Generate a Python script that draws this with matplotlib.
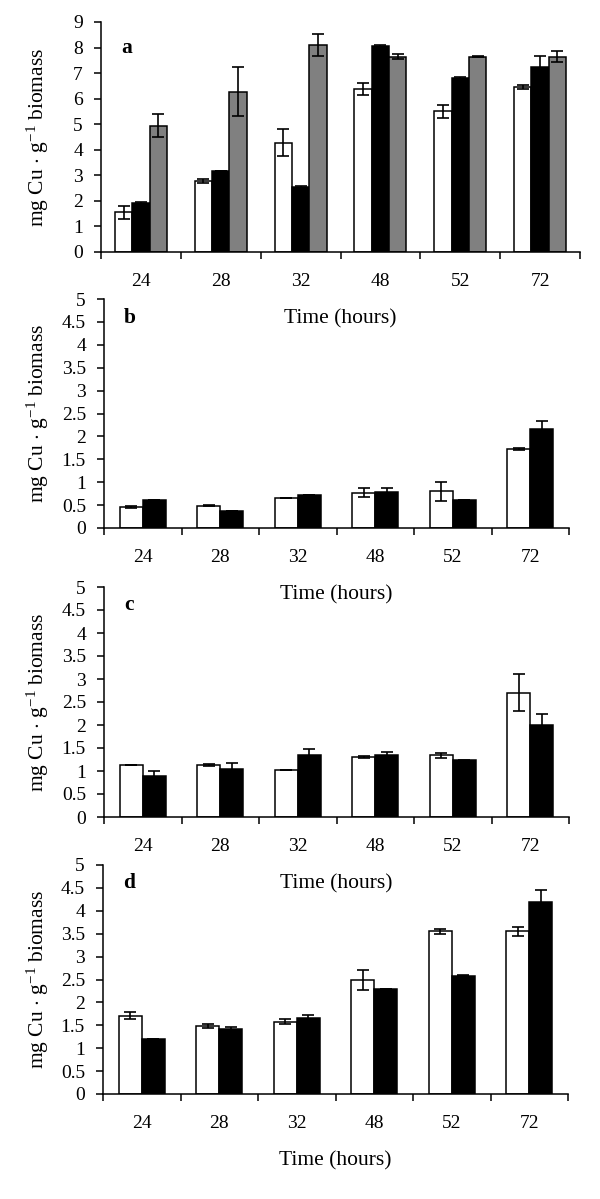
import numpy as np
import matplotlib
matplotlib.use("Agg")
import matplotlib.pyplot as plt
from matplotlib.ticker import FixedLocator, FuncFormatter

plt.rcParams['font.family'] = ['Liberation Serif', 'DejaVu Serif']
plt.rcParams['mathtext.fontset'] = 'custom'
plt.rcParams['mathtext.rm'] = 'Liberation Serif'
plt.rcParams['mathtext.it'] = 'Liberation Serif:italic'
plt.rcParams['mathtext.bf'] = 'Liberation Serif:bold'

# Sampling times (hours)
hours = ['24', '28', '32', '48', '52', '72']

# Panel a: three treatments
a_white = [1.55, 2.78, 4.28, 6.38, 5.50, 6.45]
a_white_err = [0.25, 0.07, 0.52, 0.23, 0.27, 0.07]
a_black = [1.92, 3.18, 2.55, 8.05, 6.80, 7.22]
a_black_err = [0.03, 0.00, 0.03, 0.04, 0.03, 0.45]
a_gray = [4.95, 6.28, 8.10, 7.65, 7.65, 7.65]
a_gray_err = [0.45, 0.95, 0.42, 0.08, 0.02, 0.23]

# Panel b
b_white = [0.46, 0.49, 0.65, 0.77, 0.80, 1.72]
b_white_err = [0.02, 0.02, 0.00, 0.10, 0.20, 0.02]
b_black = [0.62, 0.38, 0.72, 0.78, 0.62, 2.16]
b_black_err = [0.00, 0.00, 0.00, 0.10, 0.00, 0.18]

# Panel c
c_white = [1.14, 1.13, 1.02, 1.31, 1.34, 2.70]
c_white_err = [0.00, 0.02, 0.00, 0.02, 0.05, 0.40]
c_black = [0.90, 1.05, 1.35, 1.35, 1.23, 2.00]
c_black_err = [0.09, 0.12, 0.12, 0.06, 0.02, 0.25]

# Panel d
d_white = [1.71, 1.49, 1.58, 2.48, 3.55, 3.55]
d_white_err = [0.07, 0.04, 0.06, 0.22, 0.06, 0.10]
d_black = [1.20, 1.42, 1.66, 2.30, 2.58, 4.20]
d_black_err = [0.00, 0.05, 0.06, 0.00, 0.01, 0.25]

panels = [
    ('a', [(a_white, a_white_err, 'white'), (a_black, a_black_err, 'black'),
           (a_gray, a_gray_err, '#808080')], 9, 1),
    ('b', [(b_white, b_white_err, 'white'), (b_black, b_black_err, 'black')], 5, 0.5),
    ('c', [(c_white, c_white_err, 'white'), (c_black, c_black_err, 'black')], 5, 0.5),
    ('d', [(d_white, d_white_err, 'white'), (d_black, d_black_err, 'black')], 5, 0.5),
]

# axes boxes in pixels: left, right, top, bottom
W, H = 600, 1199
boxes = [(101, 580, 22, 252), (104, 569, 299, 528),
         (104, 569, 587, 817), (103, 568, 865, 1094)]
letter_dy = [26, 19, 18, 18]

fig = plt.figure(figsize=(W / 100, H / 100), dpi=100)

x = np.arange(len(hours)) + 0.5
for (letter, series, ymax, ystep), (l, r, t, b), ldy in zip(panels, boxes, letter_dy):
    ax = fig.add_axes([l / W, 1 - b / H, (r - l) / W, (b - t) / H])
    ax.patch.set_alpha(0)
    n = len(series)
    w = 0.217 if n == 3 else 0.297
    for k, (vals, errs, col) in enumerate(series):
        pos = x + (k - (n - 1) / 2) * w
        ax.bar(pos, vals, width=w, color=col, edgecolor='black', linewidth=1.1, zorder=2)
        ax.errorbar(pos, vals, yerr=errs, fmt='none', ecolor='black',
                    elinewidth=1.2, capsize=4, capthick=1.2, zorder=3)

    ax.set_xlim(0, len(hours))
    ax.set_ylim(0, ymax)
    ax.set_xticks(x)
    ax.set_xticklabels(hours)
    ax.xaxis.set_minor_locator(FixedLocator(np.arange(len(hours) + 1)))
    ax.tick_params(axis='x', which='major', length=0, pad=15, labelsize=14)
    ax.tick_params(axis='x', which='minor', length=5, width=1.1, direction='out')
    ax.set_yticks(np.arange(0, ymax + ystep / 2, ystep))
    ax.yaxis.set_major_formatter(FuncFormatter(lambda v, p: '%g' % v))
    ax.tick_params(axis='y', length=5, width=1.1, direction='out', pad=8, labelsize=14)
    for s in ['top', 'right']:
        ax.spines[s].set_visible(False)
    for s in ['left', 'bottom']:
        ax.spines[s].set_linewidth(1.1)

    ax.set_ylabel(r'mg Cu $\cdot$ g$^{\mathrm{-1}}$ biomass', fontsize=15.5)
    ax.yaxis.set_label_coords((51 - l) / (r - l), 0.5)
    ax.annotate('Time (hours)', xy=(0.5, 0), xycoords='axes fraction',
                xytext=(0, -67), textcoords='offset pixels', ha='center', va='center',
                fontsize=15.5, annotation_clip=False)
    ax.annotate(letter, xy=(0, 1), xycoords='axes fraction',
                xytext=(20, -ldy), textcoords='offset pixels', ha='left', va='center',
                fontsize=15.5, fontweight='bold')

fig.savefig('out.png', dpi=100)
